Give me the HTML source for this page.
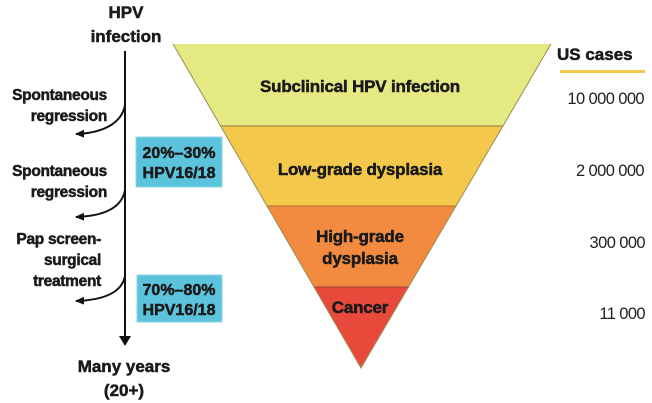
<!DOCTYPE html>
<html><head><style>
body{margin:0;background:#fff;}
svg{display:block;font-family:"Liberation Sans",Arial,sans-serif;}
.b{font-weight:bold;fill:#1a1a1a;stroke:#1a1a1a;stroke-width:0.5px;}
</style></head><body>
<svg width="652" height="403" viewBox="0 0 652 403">
<defs>
<marker id="ah" markerWidth="10" markerHeight="10" refX="8" refY="5" orient="auto" markerUnits="userSpaceOnUse">
<path d="M0,1 L9,5 L0,9 Z" fill="#111"/></marker>
</defs>
<polygon points="173,44 551,44 503,126 221,126" fill="#e4e984"/>
<polygon points="221,126 503,126 456,206 267,206" fill="#f4c84b"/>
<polygon points="267,206 456,206 409,287 314,287" fill="#f28b40"/>
<polygon points="314,287 409,287 361,368" fill="#e8493a"/>
<line x1="221" y1="126" x2="503" y2="126" stroke="#8a7a40" stroke-width="1"/>
<line x1="267" y1="206" x2="456" y2="206" stroke="#b07030" stroke-width="1"/>
<line x1="314" y1="287" x2="409" y2="287" stroke="#a04030" stroke-width="1"/>
<polyline points="173,44 361,368 551,44" fill="none" stroke="#9a8e50" stroke-width="1"/>
<g class="b" font-size="17" text-anchor="middle" style="letter-spacing:-0.2px">
<text x="360" y="92">Subclinical HPV infection</text>
<text x="360" y="175">Low-grade dysplasia</text>
<text x="360" y="242">High-grade</text>
<text x="360" y="264">dysplasia</text>
<text x="360" y="313">Cancer</text>
</g>
<text class="b" x="557" y="60" font-size="17">US cases</text>
<rect x="560" y="70" width="85" height="3" fill="#f2c84a"/>
<g font-size="16.5" text-anchor="end" fill="#222" style="letter-spacing:-0.6px">
<text x="644" y="104">10 000 000</text>
<text x="644" y="176">2 000 000</text>
<text x="645" y="248">300 000</text>
<text x="645" y="319">11 000</text>
</g>
<g class="b" text-anchor="middle" font-size="17">
<text x="126" y="18">HPV</text>
<text x="126" y="42">infection</text>
<text x="124" y="372">Many years</text>
<text x="124" y="396">(20+)</text>
</g>
<line x1="125" y1="51" x2="125" y2="343" stroke="#111" stroke-width="2"/>
<path d="M119,336 L125,346 L131,336 Z" fill="#111"/>
<path d="M125,105 C122,122 105,133 76,134" fill="none" stroke="#111" stroke-width="2" marker-end="url(#ah)"/>
<path d="M125,190 C122,207 105,216 76,217" fill="none" stroke="#111" stroke-width="2" marker-end="url(#ah)"/>
<path d="M125,276 C122,292 105,300 76,301" fill="none" stroke="#111" stroke-width="2" marker-end="url(#ah)"/>
<g class="b" font-size="15.5" text-anchor="end" style="letter-spacing:-0.3px">
<text x="107" y="100">Spontaneous</text>
<text x="107" y="121">regression</text>
<text x="107" y="176">Spontaneous</text>
<text x="107" y="197">regression</text>
<text x="101" y="244">Pap screen-</text>
<text x="101" y="265">surgical</text>
<text x="101" y="286">treatment</text>
</g>
<rect x="136" y="137" width="86" height="50" fill="#5cc3dc" stroke="#8fd4e4"/>
<rect x="137" y="275" width="85" height="47" fill="#5cc3dc" stroke="#8fd4e4"/>
<g class="b" font-size="16" text-anchor="middle">
<text x="179" y="158">20%–30%</text>
<text x="179" y="178">HPV16/18</text>
<text x="179" y="295">70%–80%</text>
<text x="179" y="315">HPV16/18</text>
</g>
</svg>
</body></html>
